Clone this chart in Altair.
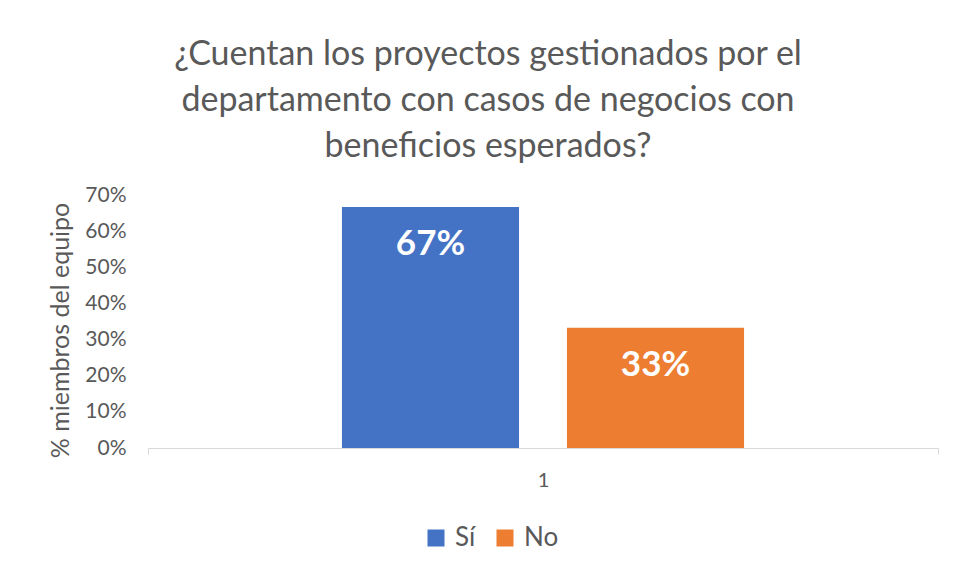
import altair as alt
import pandas as pd

categories = ["1"]
series = ["Sí", "No"]
values = [0.667, 0.333]
colors = ["#4472C4", "#ED7D31"]
y_ticks = [0, 0.1, 0.2, 0.3, 0.4, 0.5, 0.6, 0.7]
title_lines = ["¿Cuentan los proyectos gestionados por el",
               "departamento con casos de negocios con",
               "beneficios esperados?"]

df = pd.DataFrame({"cat": categories * len(series), "serie": series, "valor": values})

FONT = "Lato"
GRAY = "#595959"

y_enc = alt.Y("valor:Q", title="% miembros del equipo",
              scale=alt.Scale(domain=[0, 0.7], nice=False),
              axis=alt.Axis(format=".0%", values=y_ticks, tickCount=8,
                            domain=False, ticks=False, grid=False, labelOverlap=False,
                            labelFontSize=21, labelColor=GRAY, labelFont=FONT, labelPadding=22,
                            titleFontSize=25, titleColor=GRAY, titleFont=FONT,
                            titleFontWeight="normal", titlePadding=11, titleY=135))

base = alt.Chart(df).encode(
    x=alt.X("cat:N", title=None,
            scale=alt.Scale(paddingInner=0, paddingOuter=0),
            axis=alt.Axis(labelAngle=0, labelFontSize=20, labelColor=GRAY, labelFont=FONT,
                          labelPadding=16, domainColor="#D9D9D9", tickColor="#D9D9D9",
                          tickSize=6, tickBand="extent", grid=False)),
    xOffset=alt.XOffset("serie:N", sort=series,
                        scale=alt.Scale(paddingInner=0.213, paddingOuter=0.862)),
    y=y_enc,
)

bars = base.mark_bar().encode(
    color=alt.Color("serie:N", sort=series,
                    scale=alt.Scale(domain=series, range=colors),
                    legend=alt.Legend(title=None, orient="none", direction="horizontal",
                                      legendX=275, legendY=330,
                                      symbolType="square", symbolSize=289,
                                      symbolStrokeWidth=0, labelFontSize=26,
                                      labelColor=GRAY, labelFont=FONT, columnPadding=16,
                                      labelOffset=6)),
)

labels = base.mark_text(color="white", fontSize=35, fontWeight="bold", font=FONT,
                        baseline="middle", dy=37).encode(
    text=alt.Text("valor:Q", format=".0%"),
)

chart = alt.layer(bars, labels).properties(
    width=790, height=253,
    padding={"left": 140, "top": 187, "right": 10, "bottom": 110},
    autosize=alt.AutoSizeParams(type="none"),
    title=alt.TitleParams(title_lines, fontSize=34, font=FONT, color=GRAY,
                          fontWeight="normal", anchor="middle", lineHeight=46,
                          dx=-55, offset=20),
).configure_view(stroke=None)

chart.save("out.html", embed_options={"renderer": "svg", "actions": False})
